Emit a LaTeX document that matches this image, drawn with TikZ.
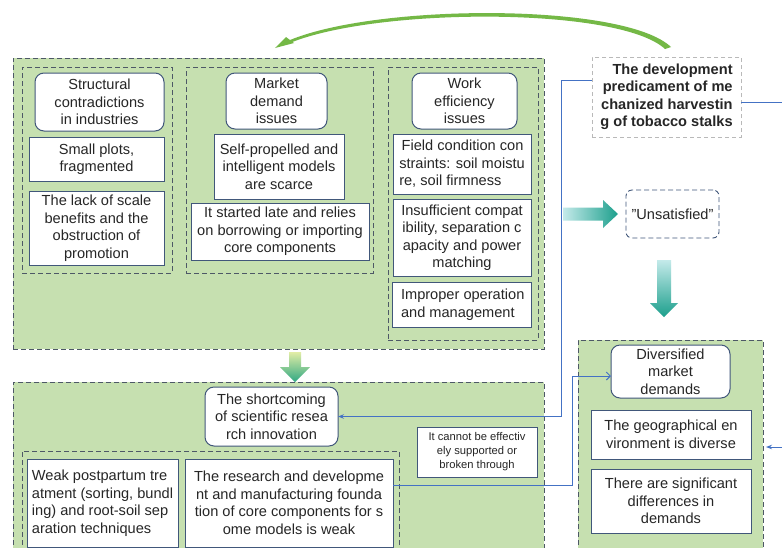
\documentclass[tikz,border=0pt]{standalone}
\usepackage{fontspec}
\setmainfont{Liberation Sans}
\usetikzlibrary{arrows.meta,calc}
\definecolor{gfill}{HTML}{C6E0B0}
\definecolor{gdash}{HTML}{4D5866}
\definecolor{bline}{HTML}{41577A}
\definecolor{cnc}{HTML}{4472C4}
\definecolor{txt}{HTML}{262626}
\definecolor{arrg}{HTML}{74B846}
\definecolor{ayel}{HTML}{E2EDA6}
\definecolor{agrn}{HTML}{2FA883}
\definecolor{acya}{HTML}{C4EAEA}
\definecolor{atea}{HTML}{1C9F8C}
\begin{document}
\begin{tikzpicture}[x=1pt,y=-1pt,
  sz/.style 2 args={minimum width=#1pt,minimum height=#2pt},
  base/.style={inner sep=0pt,outer sep=0pt,text=txt,font=\fontsize{14.6}{17.5}\selectfont},
  grp/.style={base,draw=gdash,dash pattern=on 5pt off 3pt,line width=0.9pt,fill=gfill},
  col/.style={base,draw=gdash,dash pattern=on 5pt off 3pt,line width=0.9pt},
  hdr/.style={base,draw=bline,line width=1pt,rounded corners=9pt,fill=white,align=center},
  box/.style={base,draw=bline,line width=1pt,fill=white,align=center},
  ttl/.style={base,draw=gray!55,dash pattern=on 4pt off 3pt,line width=0.9pt,fill=white,align=right,font=\bfseries\fontsize{14.6}{17.5}\selectfont},
  uns/.style={base,draw=bline,dash pattern=on 5pt off 3pt,line width=0.9pt,rounded corners=6pt,fill=white},
  small/.style={box,font=\fontsize{11.2}{14}\selectfont},
  cn/.style={draw=cnc,line width=1pt}]
\useasboundingbox (0,0) rectangle (782,547);
\fill[white] (0,0) rectangle (782,547);

% group boxes
\node[grp,sz={531}{291}] (topgrp) at (278.5,203.5) {};
\node[col,sz={150}{206}] (col1) at (97,170) {};
\node[col,sz={187}{206}] (col2) at (279.5,170) {};
\node[col,sz={150}{273}] (col3) at (463,203.5) {};
\node[grp,sz={531}{188}] (botgrp) at (278.5,476) {};
\node[col,sz={377}{109}] (inner) at (210.5,505.5) {};
\node[grp,sz={185}{230}] (rgrp) at (670.5,455) {};

% column 1
\node[hdr,sz={129}{58}] (h1) at (99.5,102) {Structural\\contradictions\\in industries};
\node[box,sz={135}{44}] (b11) at (96.5,159) {Small plots,\\fragmented};
\node[box,sz={135}{74}] (b12) at (96.5,228) {The lack of scale\\benefits and the\\obstruction of\\promotion};
% column 2
\node[hdr,sz={101}{56}] (h2) at (276.5,101) {Market\\demand\\issues};
\node[box,sz={130}{65}] (b21) at (279,166.5) {Self-propelled and\\intelligent models\\are scarce};
\node[box,sz={178}{57}] (b22) at (280,231.5) {It started late and relies\\on borrowing or importing\\core components};
% column 3
\node[hdr,sz={105}{56}] (h3) at (464.5,101) {Work\\efficiency\\issues};
\node[box,sz={138}{60},align=left] (b31) at (462,164) {\,Field condition con\\straints: soil moistu\\re, soil firmness};
\node[box,sz={138}{77}] (b32) at (462,237.5) {Insufficient compat\\ibility, separation c\\apacity and power\\matching};
\node[box,sz={139}{45},align=left] (b33) at (461.5,304.5) {\,Improper operation\\\,and management};

% title and unsatisfied
\node[ttl,sz={149}{80}] (title) at (666.5,97) {The development\\predicament of me\\chanized harvestin\\g of tobacco stalks};
\node[uns,sz={93}{48}] (unsat) at (672.5,214) {\symbol{"22}Unsatisfied\symbol{"22}};

% bottom group
\node[hdr,sz={133}{59}] (short) at (271.5,416.5) {The shortcoming\\of scientific resea\\rch innovation};
\node[box,sz={151}{88},align=left] (weak) at (102.5,503) {Weak postpartum tre\\atment (sorting, bundl\\ing) and root-soil sep\\aration techniques};
\node[box,sz={208}{88}] (research) at (289,503) {The research and developme\\nt and manufacturing founda\\tion of core components for s\\ome models is weak};
\node[small,sz={120}{50}] (cannot) at (477,452) {It cannot be effectiv\\ely supported or\\broken through};

% right group
\node[hdr,sz={119}{53}] (div) at (670.5,371.5) {Diversified\\market\\demands};
\node[box,sz={160}{49}] (geo) at (671,434.5) {The geographical en\\vironment is diverse};
\node[box,sz={160}{64}] (sig) at (671,501) {There are significant\\differences in\\demands};

% connectors
\coordinate (k1) at (561,80);
\draw[cn,-{Stealth[length=6pt,width=4.5pt]}] (title.west |- k1) -- (k1) |- (short.east);
\coordinate (k2) at (572,485);
\draw[cn,-{Straight Barb[length=4pt,width=8pt]}] (research.east |- k2) -- (k2) |- ([yshift=-4.5pt]div.west);
\coordinate (k3) at (800,102);
\coordinate (k4) at (766,447);
\draw[cn,-{Stealth[length=6pt,width=4.5pt]}] (title.east |- k3) -- (k3) |- (k4);

% block arrows
\shade[top color=ayel, bottom color=agrn] (289,352) -- (301,352) -- (301,367) -- (310,367) -- (295,382) -- (280,367) -- (289,367) -- cycle;
\shade[left color=acya, right color=atea] (563,207.5) -- (603,207.5) -- (603,200) -- (618,214) -- (603,228) -- (603,220.5) -- (563,220.5) -- cycle;
\shade[top color=acya, bottom color=atea] (657,260) -- (671,260) -- (671,303) -- (678,303) -- (664,317) -- (650,303) -- (657,303) -- cycle;

% curved green arrow from title to top group
\fill[arrg] (671,47) .. controls (625,3) and (380,3) .. (290,40) -- (291,42.5) .. controls (380,7) and (620,7) .. (665,49) -- cycle;
\fill[arrg] (275,48) -- (286,37) -- (294,43) -- cycle;
\end{tikzpicture}
\end{document}
